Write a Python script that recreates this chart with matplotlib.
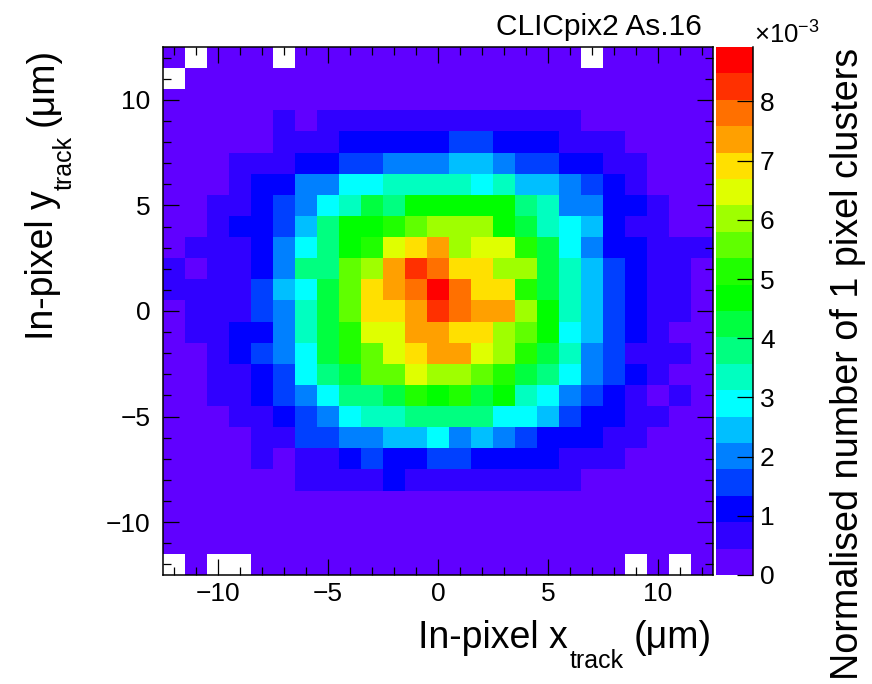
import numpy as np
import matplotlib
matplotlib.use('Agg')
import matplotlib.pyplot as plt
from matplotlib.colors import ListedColormap, BoundaryNorm

plt.rcParams['font.family'] = ['Liberation Sans', 'DejaVu Sans']
plt.rcParams['mathtext.fontset'] = 'custom'
plt.rcParams['mathtext.rm'] = 'Liberation Sans'
plt.rcParams['mathtext.it'] = 'Liberation Sans'
plt.rcParams['mathtext.default'] = 'regular'

W, H = 872, 684

# Palette bin read for every pixel cell, top row first, -1 = empty bin
levels = [
    [0, -1, 0, 0, 0, -1, 0, 0, 0, 0, 0, 0, 0, 0, 0, 0, 0, 0, 0, -1, 0, 0, 0, 0, 0],
    [-1, 0, 0, 0, 0, 0, 0, 0, 0, 0, 0, 0, 0, 0, 0, 0, 0, 0, 0, 0, 0, 0, 0, 0, 0],
    [0, 0, 0, 0, 0, 0, 0, 0, 0, 0, 0, 0, 0, 0, 0, 0, 0, 0, 0, 0, 0, 0, 0, 0, 0],
    [0, 0, 0, 0, 0, 1, 0, 1, 1, 1, 1, 1, 1, 1, 1, 1, 1, 1, 1, 0, 0, 0, 0, 0, 0],
    [0, 0, 0, 0, 0, 1, 1, 1, 2, 2, 2, 2, 2, 3, 3, 2, 2, 2, 1, 1, 1, 0, 0, 0, 0],
    [0, 0, 0, 1, 1, 1, 2, 2, 3, 3, 4, 4, 4, 5, 5, 4, 3, 3, 2, 2, 1, 1, 0, 0, 0],
    [0, 0, 0, 1, 2, 2, 4, 4, 6, 6, 7, 7, 7, 7, 6, 7, 5, 5, 4, 3, 2, 1, 0, 0, 0],
    [0, 0, 1, 1, 2, 3, 4, 6, 7, 9, 8, 10, 10, 10, 10, 10, 8, 7, 4, 4, 2, 2, 1, 0, 0],
    [0, 0, 1, 2, 2, 3, 5, 8, 10, 10, 11, 12, 13, 13, 13, 10, 9, 7, 6, 5, 2, 1, 1, 0, 0],
    [0, 1, 1, 1, 2, 4, 6, 8, 10, 11, 14, 15, 16, 13, 14, 14, 11, 9, 6, 4, 2, 2, 1, 1, 1],
    [1, 0, 1, 1, 2, 4, 8, 8, 12, 13, 16, 18, 17, 15, 15, 13, 13, 9, 7, 5, 3, 2, 1, 1, 0],
    [1, 1, 1, 1, 3, 5, 6, 9, 12, 15, 16, 17, 19, 17, 15, 15, 11, 9, 7, 5, 3, 2, 1, 1, 0],
    [0, 1, 1, 1, 3, 4, 7, 9, 12, 15, 15, 16, 18, 17, 16, 16, 13, 10, 7, 5, 3, 2, 1, 1, 0],
    [0, 1, 1, 2, 2, 4, 7, 9, 11, 14, 14, 16, 16, 15, 15, 13, 12, 10, 6, 5, 3, 2, 1, 0, 0],
    [0, 0, 1, 2, 3, 4, 6, 9, 11, 12, 14, 15, 16, 16, 14, 13, 11, 9, 7, 4, 3, 1, 1, 1, 0],
    [0, 0, 1, 1, 2, 3, 6, 8, 9, 12, 12, 14, 13, 13, 12, 11, 9, 8, 6, 4, 3, 2, 1, 0, 0],
    [0, 0, 1, 1, 2, 3, 4, 6, 8, 8, 9, 11, 10, 11, 9, 10, 7, 6, 4, 3, 2, 1, 0, 1, 0],
    [0, 0, 0, 1, 1, 2, 3, 4, 6, 7, 7, 8, 8, 8, 8, 6, 6, 5, 3, 2, 2, 1, 1, 0, 0],
    [0, 0, 0, 0, 1, 1, 3, 3, 4, 4, 5, 5, 6, 4, 5, 4, 3, 2, 2, 2, 1, 1, 0, 0, 0],
    [0, 0, 0, 0, 1, 0, 1, 1, 2, 3, 2, 2, 3, 3, 2, 2, 2, 2, 1, 1, 1, 0, 0, 0, 0],
    [0, 0, 0, 0, 0, 0, 1, 1, 1, 1, 2, 1, 1, 1, 1, 1, 1, 1, 1, 0, 0, 0, 0, 0, 0],
    [0, 0, 0, 0, 0, 0, 0, 0, 0, 0, 0, 0, 0, 0, 0, 0, 0, 0, 0, 0, 0, 0, 0, 0, 0],
    [0, 0, 0, 0, 0, 0, 0, 0, 0, 0, 0, 0, 0, 0, 0, 0, 0, 0, 0, 0, 0, 0, 0, 0, 0],
    [0, 0, 0, 0, 0, 0, 0, 0, 0, 0, 0, 0, 0, 0, 0, 0, 0, 0, 0, 0, 0, 0, 0, 0, 0],
    [-1, 0, -1, -1, 0, 0, 0, 0, 0, 0, 0, 0, 0, 0, 0, 0, 0, 0, 0, 0, 0, -1, 0, -1, 0],
]
palette = ['#6000ff', '#3000ff', '#0000ff', '#0040ff', '#0080ff', '#00bfff', '#00ffff',
           '#00ffc0', '#00ff80', '#00ff40', '#00ff00', '#20ff00', '#60ff00', '#9fff00',
           '#dfff00', '#ffe000', '#ffa000', '#ff7000', '#ff3000', '#ff0000']
zmax = 8.92
x_ticks = [-10, -5, 0, 5, 10]
y_ticks = [-10, -5, 0, 5, 10]
z_ticks = [0, 1, 2, 3, 4, 5, 6, 7, 8]

grid = np.array(levels, dtype=float)
grid[grid < 0] = np.nan
step = zmax / len(palette)
z = (grid + 0.5) * step
edges = np.arange(-12.5, 13.5, 1)

fig = plt.figure(figsize=(W / 100, H / 100), dpi=100)
ax = fig.add_axes([163 / W, 1 - 575 / H, 550 / W, 528 / H])
cax = fig.add_axes([716 / W, 1 - 575 / H, 37 / W, 528 / H])

cmap = ListedColormap(palette)
cmap.set_bad('white')
norm = BoundaryNorm(np.linspace(0, zmax, len(palette) + 1), len(palette))
mesh = ax.pcolormesh(edges, edges[::-1], z, cmap=cmap, norm=norm)

ax.set_xlim(-12.5, 12.5)
ax.set_ylim(-12.5, 12.5)
ax.set_xticks(x_ticks)
ax.set_yticks(y_ticks)
ax.set_xticklabels(['\u2212' + str(-v) if v < 0 else str(v) for v in x_ticks])
ax.set_yticklabels(['\u2212' + str(-v) if v < 0 else str(v) for v in y_ticks])
ax.set_xticks(np.arange(-12, 13, 1), minor=True)
ax.set_yticks(np.arange(-12, 13, 1), minor=True)
ax.tick_params(which='major', direction='in', top=True, right=True, length=11.5, width=0.9, labelsize=19)
ax.tick_params(axis='x', which='major', pad=5)
ax.tick_params(axis='y', which='major', pad=9)
ax.tick_params(which='minor', direction='in', top=True, right=True, length=5.8, width=0.9)
for s in ax.spines.values():
    s.set_linewidth(1.1)

cb = fig.colorbar(mesh, cax=cax, spacing='proportional', drawedges=False)
cb.set_ticks(z_ticks)
cb.ax.minorticks_off()
cb.ax.tick_params(direction='in', length=11.5, width=0.9, labelsize=19, pad=5)
cb.outline.set_visible(False)
cax.plot([1, 1], [0, 1], transform=cax.transAxes, color='k', lw=1.1, clip_on=False)

fig.text(702 / W, 1 - 27 / H, 'CLICpix2 As.16', fontsize=21.5, ha='right', va='center')
fig.text(754 / W, 1 - 44 / H, '\u00d710$^{-3}$', fontsize=18.5, ha='left', va='baseline')

# subscript sits lower than mathtext puts it, so the axis titles are three pieces
fig.text(418 / W, 1 - 648 / H, 'In-pixel x', fontsize=27, ha='left', va='baseline')
fig.text(570 / W, 1 - 668 / H, 'track', fontsize=18, ha='left', va='baseline')
fig.text(712 / W, 1 - 648 / H, '(\u03bcm)', fontsize=27, ha='right', va='baseline')

fig.text(53 / W, 1 - 340 / H, 'In-pixel y', fontsize=27, ha='left', va='baseline', rotation=90, rotation_mode='anchor')
fig.text(72 / W, 1 - 190 / H, 'track', fontsize=18, ha='left', va='baseline', rotation=90, rotation_mode='anchor')
fig.text(53 / W, 1 - 48 / H, '(\u03bcm)', fontsize=27, ha='right', va='baseline', rotation=90, rotation_mode='anchor')

fig.text(858 / W, 1 - 48 / H, 'Normalised number of 1 pixel clusters', fontsize=27.2, ha='right', va='baseline', rotation=90, rotation_mode='anchor')

fig.savefig('out.png', dpi=100)
